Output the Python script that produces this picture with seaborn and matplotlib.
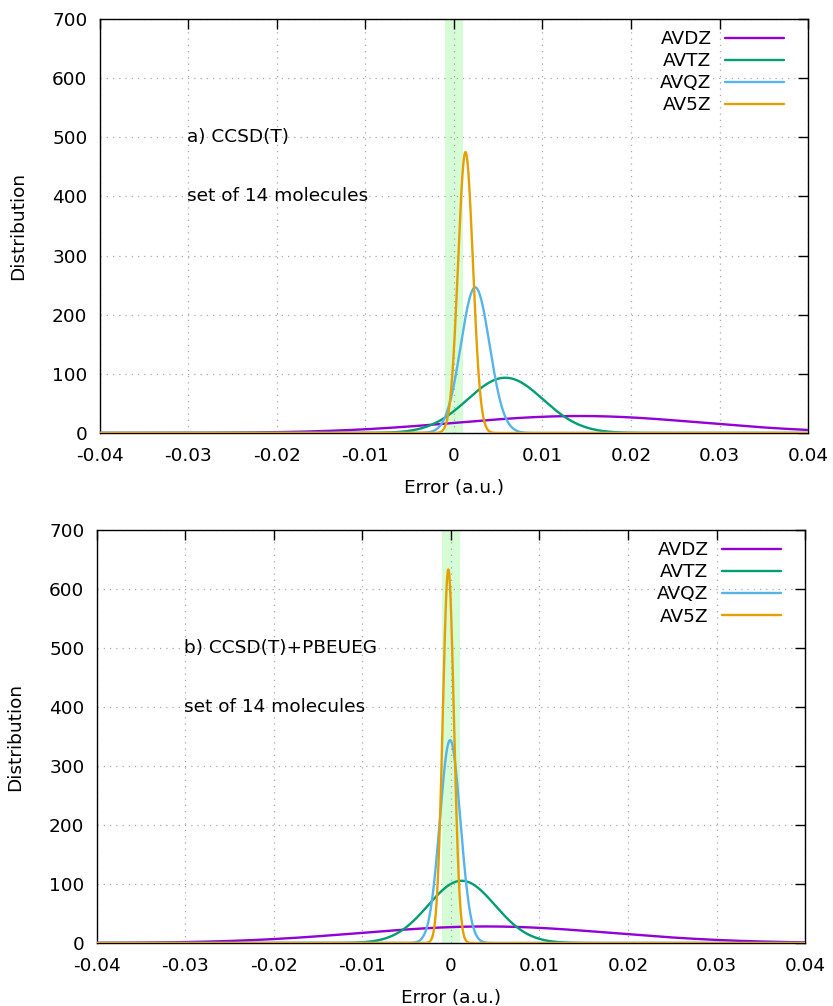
import numpy as np
import pandas as pd
import matplotlib.pyplot as plt
import seaborn as sns

basis = ["AVDZ", "AVTZ", "AVQZ", "AV5Z"]
colors = ["#9400d3", "#009e73", "#56b4e9", "#e69f00"]

mean_a = [0.0142, 0.0058, 0.0024, 0.0013]
sigma_a = [0.0139, 0.00427, 0.00162, 0.00084]
mean_b = [0.0040, 0.0012, -0.0001, -0.0003]
sigma_b = [0.0142, 0.00378, 0.00116, 0.00063]

band = [-0.001, 0.001]
xticks = [-0.04, -0.03, -0.02, -0.01, 0, 0.01, 0.02, 0.03, 0.04]
xticklabels = ["-0.04", "-0.03", "-0.02", "-0.01", "0", "0.01", "0.02", "0.03", "0.04"]
yticks = [0, 100, 200, 300, 400, 500, 600, 700]

FS = 13.3


def make_frame(means, sigmas):
    x = np.linspace(-0.04, 0.04, 3001)
    rows = []
    for name, m, s in zip(basis, means, sigmas):
        y = np.exp(-0.5 * ((x - m) / s) ** 2) / (s * np.sqrt(2 * np.pi))
        rows.append(pd.DataFrame({"error": x, "dist": y, "basis": name}))
    return pd.concat(rows, ignore_index=True)


sns.set_theme(style="white")
plt.rcParams['font.family'] = ['DejaVu Sans']
plt.rcParams['text.color'] = 'black'
plt.rcParams['axes.labelcolor'] = 'black'

fig = plt.figure(figsize=(8.33, 10.06), dpi=100)
ax_a = fig.add_axes([0.120, 0.5696, 0.850, 0.4115])
ax_b = fig.add_axes([0.1164, 0.0626, 0.850, 0.4105])


def draw_panel(ax, means, sigmas, title):
    ax.axvspan(band[0], band[1], color="#d5fcd5", lw=0, zorder=0)
    df = make_frame(means, sigmas)
    sns.lineplot(data=df, x="error", y="dist", hue="basis", palette=colors,
                 hue_order=basis, linewidth=1.7, ax=ax, zorder=3)
    ax.set_xlim(-0.04, 0.04)
    ax.set_ylim(0, 700)
    ax.set_xticks(xticks)
    ax.set_xticklabels(xticklabels)
    ax.set_yticks(yticks)
    ax.grid(True, color="#a8a8a8", linestyle=(0, (1, 4)), linewidth=0.9)
    ax.set_axisbelow(True)
    ax.tick_params(direction="in", length=7, width=1, top=True, right=True,
                   labelsize=FS, colors="black")
    ax.tick_params(axis="x", pad=10)
    ax.tick_params(axis="y", pad=9)
    for sp in ax.spines.values():
        sp.set_color("black")
        sp.set_linewidth(1)
    ax.set_xlabel("Error (a.u.)", fontsize=FS, labelpad=10)
    ax.set_ylabel("Distribution", fontsize=FS, labelpad=18)
    ax.text(-0.0302, 500, title, fontsize=FS, va="center", ha="left")
    ax.text(-0.0302, 400, "set of 14 molecules", fontsize=FS, va="center", ha="left")
    leg = ax.legend(loc="upper right", bbox_to_anchor=(0.985, 1.004), frameon=False,
                    markerfirst=False, fontsize=FS, handlelength=3.2,
                    labelspacing=0.22, borderaxespad=0.3, handletextpad=0.75)
    for t in leg.get_texts():
        t.set_ha("right")


draw_panel(ax_a, mean_a, sigma_a, "a) CCSD(T)")
draw_panel(ax_b, mean_b, sigma_b, "b) CCSD(T)+PBEUEG")

fig.savefig("out.png", dpi=100)
